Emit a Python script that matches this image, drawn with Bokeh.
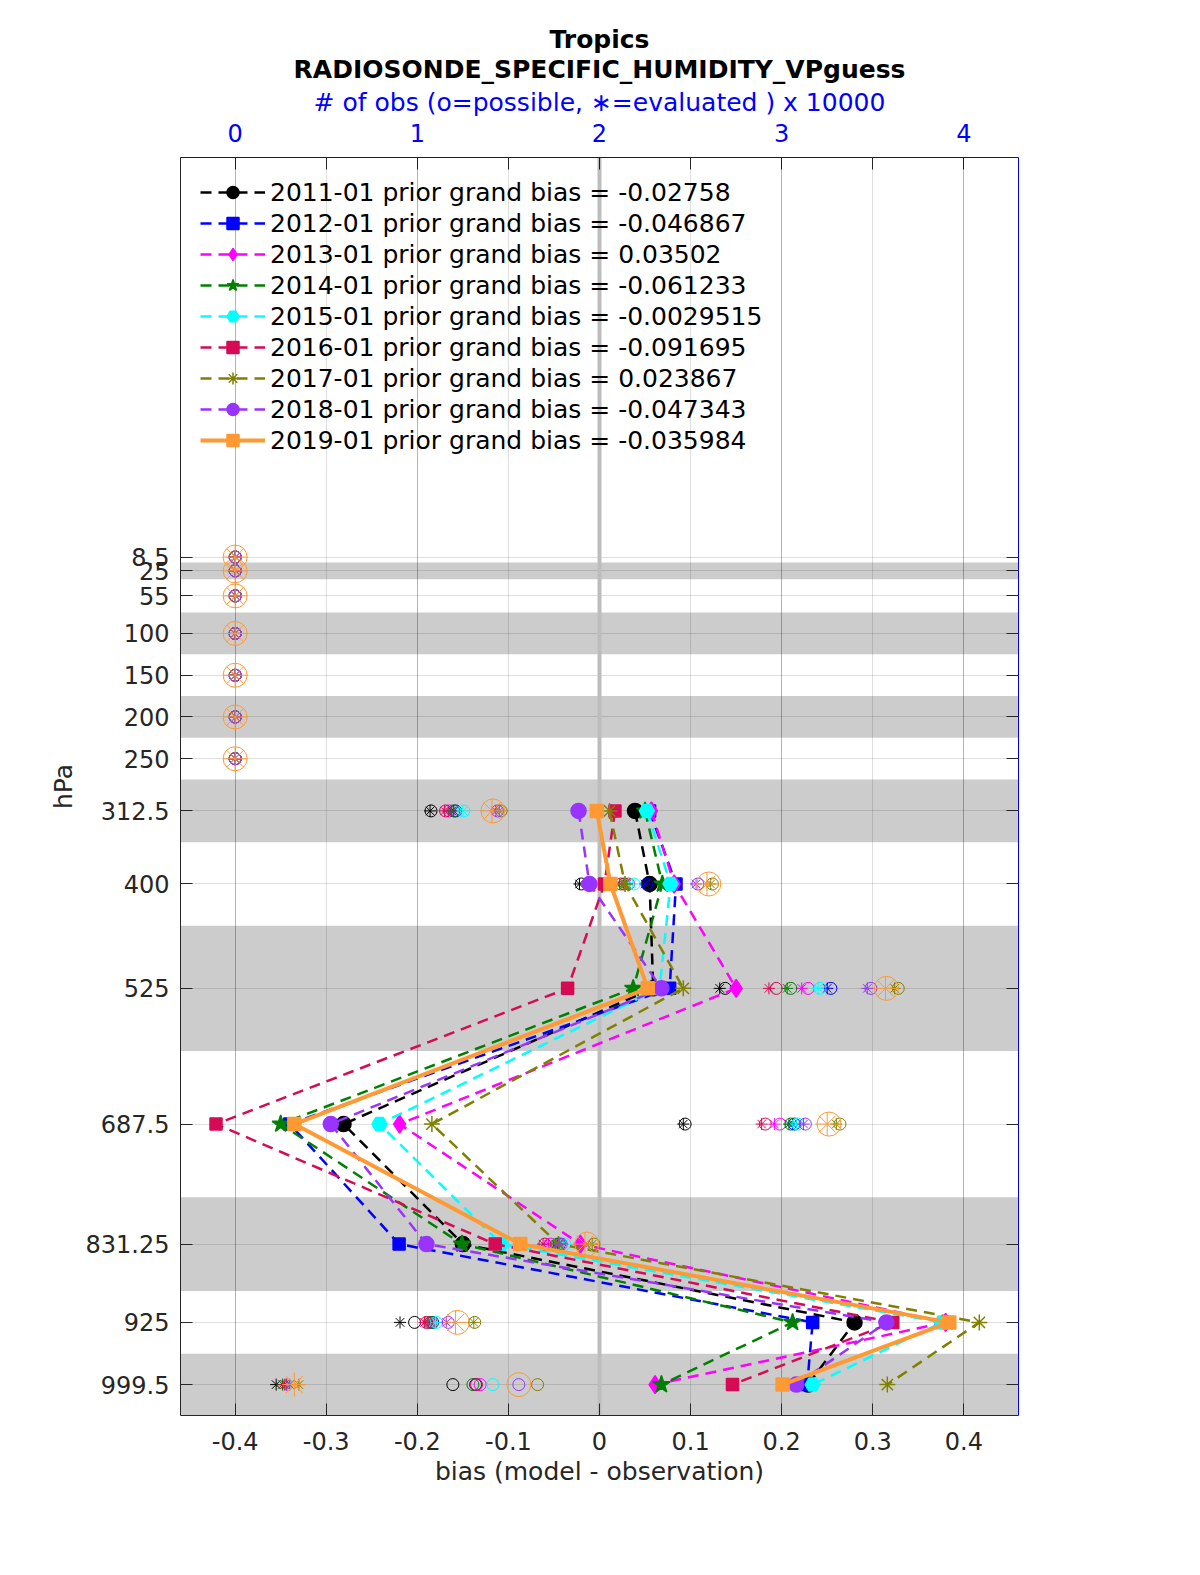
import math
from bokeh.plotting import figure
from bokeh.models import (Range1d, LinearAxis, FixedTicker, Title, Legend, LegendItem,
                          Span, Grid, BoxAnnotation, ColumnDataSource, CustomJSTickFormatter)
from bokeh.embed import file_html
from bokeh.resources import INLINE

# ---------------- data ----------------
levels = [8.5, 25, 55, 100, 150, 200, 250, 312.5, 400, 525, 687.5, 831.25, 925, 999.5]
level_labels = ["8.5", "25", "55", "100", "150", "200", "250", "312.5", "400", "525",
                "687.5", "831.25", "925", "999.5"]
shaded_top = [15, 75, 175, 275, 450, 775, 962.5]
shaded_bottom = [35, 125, 225, 350, 600, 887.5, 1036.5]
bias_ticks = [-0.4, -0.3, -0.2, -0.1, 0, 0.1, 0.2, 0.3, 0.4]
bias_tick_labels = ["-0.4", "-0.3", "-0.2", "-0.1", "0", "0.1", "0.2", "0.3", "0.4"]
obs_ticks = [0, 1, 2, 3, 4]
obs_tick_labels = ["0", "1", "2", "3", "4"]

periods = ["2011-01", "2012-01", "2013-01", "2014-01", "2015-01", "2016-01",
           "2017-01", "2018-01", "2019-01"]
grand_bias = ["-0.02758", "-0.046867", "0.03502", "-0.061233", "-0.0029515",
              "-0.091695", "0.023867", "-0.047343", "-0.035984"]

NA = float("nan")
upper_nan = [NA] * 7
upper_zero = [0.0] * 7

# bias at 312.5, 400, 525, 687.5, 831.25, 925, 999.5 hPa (upper levels empty)
bias_2011 = upper_nan + [0.039, 0.055, 0.059, -0.281, -0.150, 0.280, 0.229]
bias_2012 = upper_nan + [0.055, 0.084, 0.077, -0.340, -0.220, 0.234, 0.228]
bias_2013 = upper_nan + [0.057, 0.082, 0.150, -0.2195, -0.021, 0.380, 0.061]
bias_2014 = upper_nan + [0.050, 0.069, 0.037, -0.350, -0.151, 0.212, 0.068]
bias_2015 = upper_nan + [0.052, 0.078, 0.066, -0.2415, -0.108, 0.376, 0.234]
bias_2016 = upper_nan + [0.017, 0.0055, -0.035, -0.421, -0.1145, 0.322, 0.146]
bias_2017 = upper_nan + [0.011, 0.028, 0.092, -0.184, -0.045, 0.417, 0.316]
bias_2018 = upper_nan + [-0.023, -0.011, 0.068, -0.295, -0.190, 0.315, 0.216]
bias_2019 = upper_nan + [-0.003, 0.012, 0.053, -0.335, -0.087, 0.384, 0.201]

# number of obs possible (x 10000)
poss_2011 = upper_zero + [1.075, 1.90, 2.69, 2.47, 1.455, 0.985, 1.195]
poss_2012 = upper_zero + [1.21, 2.26, 3.27, 3.07, 1.78, 1.085, 1.32]
poss_2013 = upper_zero + [1.175, 2.16, 3.145, 2.99, 1.73, 1.065, 1.345]
poss_2014 = upper_zero + [1.20, 2.136, 3.05, 3.05, 1.77, 1.075, 1.305]
poss_2015 = upper_zero + [1.255, 2.19, 3.21, 3.09, 1.81, 1.105, 1.415]
poss_2016 = upper_zero + [1.155, 2.118, 2.97, 2.91, 1.70, 1.05, 1.325]
poss_2017 = upper_zero + [1.46, 2.62, 3.64, 3.32, 1.97, 1.315, 1.66]
poss_2018 = upper_zero + [1.44, 2.54, 3.49, 3.13, 1.79, 1.17, 1.557]
poss_2019 = upper_zero + [1.415, 2.60, 3.575, 3.26, 1.93, 1.22, 1.557]

# number of obs evaluated (x 10000)
eval_2011 = upper_zero + [1.07, 1.89, 2.66, 2.46, 1.45, 0.905, 0.225]
eval_2012 = upper_zero + [1.20, 2.25, 3.25, 3.06, 1.77, 1.08, 0.28]
eval_2013 = upper_zero + [1.17, 2.15, 3.11, 2.96, 1.72, 1.06, 0.285]
eval_2014 = upper_zero + [1.19, 2.13, 3.03, 3.04, 1.76, 1.07, 0.26]
eval_2015 = upper_zero + [1.25, 2.18, 3.20, 3.08, 1.80, 1.10, 0.29]
eval_2016 = upper_zero + [1.15, 2.11, 2.93, 2.89, 1.69, 1.04, 0.27]
eval_2017 = upper_zero + [1.45, 2.61, 3.62, 3.30, 1.96, 1.31, 0.35]
eval_2018 = upper_zero + [1.43, 2.53, 3.47, 3.12, 1.78, 1.16, 0.30]
eval_2019 = upper_zero + [1.41, 2.59, 3.57, 3.25, 1.92, 1.21, 0.325]

bias_all = [bias_2011, bias_2012, bias_2013, bias_2014, bias_2015, bias_2016,
            bias_2017, bias_2018, bias_2019]
poss_all = [poss_2011, poss_2012, poss_2013, poss_2014, poss_2015, poss_2016,
            poss_2017, poss_2018, poss_2019]
eval_all = [eval_2011, eval_2012, eval_2013, eval_2014, eval_2015, eval_2016,
            eval_2017, eval_2018, eval_2019]

# ---------------- styles ----------------
colors = ["#000000", "#0000ff", "#ff00ff", "#008000", "#00ffff", "#d60a55",
          "#808000", "#9933ff", "#ff9933"]
markers = ["circle", "square", "diamond", "star", "hex", "square", "asterisk",
           "circle", "square"]
msizes = [15, 12, 18, 18, 15, 12, 16, 15, 13]
dashes = ["11 7"] * 8 + ["solid"]
lwidths = [2.5] * 8 + [4]
obs_sizes = [12] * 8 + [24]

FONT = "DejaVu Sans"

# ---------------- figure ----------------
W, H = 1200, 1575
FL, FT, FW, FH = 180, 157, 838, 1258
p = figure(width=W, height=H, output_backend="svg", toolbar_location=None,
           title=None,
           x_range=Range1d(-0.46, 0.46), y_range=Range1d(1036.5, -470),
           min_border_left=FL, min_border_top=FT,
           min_border_right=W - FL - FW, min_border_bottom=H - FT - FH)
p.outline_line_color = None
p.background_fill_color = "white"
p.border_fill_color = "white"
p.extra_x_ranges = {"obs": Range1d(-0.3, 4.3)}

# bottom axis
xa = p.xaxis[0]
xa.ticker = FixedTicker(ticks=bias_ticks)
xa.major_label_overrides = {t: l for t, l in zip(bias_ticks, bias_tick_labels)}
xa.axis_label = "bias (model - observation)"

# left axis
ya = p.yaxis[0]
ya.ticker = FixedTicker(ticks=levels)
ya.major_label_overrides = {t: l for t, l in zip(levels, level_labels)}
ya.axis_label = "hPa"

# top axis
ta = LinearAxis(x_range_name="obs", ticker=FixedTicker(ticks=obs_ticks,
                minor_ticks=[t + 0.5 for t in obs_ticks[:-1]]))
ta.major_label_overrides = {t: l for t, l in zip(obs_ticks, obs_tick_labels)}
ta.axis_label = "# of obs (o=possible, \u2217=evaluated ) x 10000"

# right axis
ra = LinearAxis(ticker=FixedTicker(ticks=levels),
                formatter=CustomJSTickFormatter(code="return ''"))

for ax in [xa, ya, ta, ra]:
    ax.major_tick_in = 12
    ax.major_tick_out = 0
    ax.minor_tick_in = 0
    ax.minor_tick_out = 0
    ax.major_label_text_font = FONT
    ax.major_label_text_font_size = "24px"
    ax.axis_label_text_font = FONT
    ax.axis_label_text_font_size = "25px"
    ax.axis_label_text_font_style = "normal"
    ax.major_label_standoff = 11
    ax.axis_line_width = 1
    ax.major_tick_line_width = 1

for ax in [xa, ya]:
    ax.axis_line_color = "#262626"
    ax.major_tick_line_color = "#262626"
    ax.major_label_text_color = "#262626"
    ax.axis_label_text_color = "#262626"
xa.major_label_standoff = 16
xa.axis_label_standoff = 4
ya.axis_label_standoff = 5

ta.axis_line_color = "blue"
ta.major_tick_line_color = "blue"
ta.major_label_text_color = "blue"
ta.axis_label_text_color = "blue"
ta.minor_tick_in = 12
ta.minor_tick_line_color = "#262626"
ta.axis_label_standoff = 4
ta.major_label_standoff = 16

ra.axis_line_color = "blue"
ra.major_tick_line_color = "#262626"
ra.major_label_standoff = 0

p.add_layout(ta, "above")
p.add_layout(ra, "right")
p.add_layout(Title(text="RADIOSONDE_SPECIFIC_HUMIDITY_VPguess", align="center",
                   text_font=FONT, text_font_size="25px", text_font_style="bold",
                   text_color="black", standoff=2), "above")
p.add_layout(Title(text="Tropics", align="center", text_font=FONT,
                   text_font_size="25px", text_font_style="bold",
                   text_color="black", standoff=-5), "above")

# grids
p.xgrid.ticker = FixedTicker(ticks=bias_ticks)
p.ygrid.ticker = FixedTicker(ticks=levels)
for g in [p.xgrid[0], p.ygrid[0]]:
    g.grid_line_color = "#262626"
    g.grid_line_alpha = 0.15
    g.grid_line_width = 1
bgrid = Grid(dimension=0, ticker=FixedTicker(ticks=[-0.4, -0.2, 0, 0.2, 0.4]),
             grid_line_color="#0000ff", grid_line_alpha=0.22, grid_line_width=1)
p.add_layout(bgrid)

# shaded layers
for t, b in zip(shaded_top, shaded_bottom):
    p.add_layout(BoxAnnotation(top=t, bottom=b, fill_color="#cccccc", fill_alpha=1.0,
                               line_color=None, level="image"))

# zero line
p.add_layout(Span(location=0, dimension="height", line_color="#bdbdbd",
                  line_width=4, level="underlay"))

# series
items = []
for i in range(len(periods)):
    src = ColumnDataSource(dict(level=levels, bias=bias_all[i],
                                poss=poss_all[i], ev=eval_all[i]))
    ln = p.line("bias", "level", source=src, line_color=colors[i],
                line_width=lwidths[i], line_dash=dashes[i])
    mk = p.scatter("bias", "level", source=src, marker=markers[i], size=msizes[i],
                   fill_color=colors[i], line_color=colors[i], line_width=1.5)
    p.scatter("poss", "level", source=src, x_range_name="obs", marker="circle",
              size=obs_sizes[i], fill_color=None, line_color=colors[i], line_width=1)
    p.scatter("ev", "level", source=src, x_range_name="obs", marker="asterisk",
              size=obs_sizes[i], line_color=colors[i], line_width=1)
    items.append(LegendItem(label=f"{periods[i]} prior grand bias = {grand_bias[i]}",
                            renderers=[ln, mk]))

legend = Legend(items=items, location="top_left", label_text_font=FONT,
                label_text_font_size="25px", label_text_color="black",
                glyph_width=65, glyph_height=30, label_height=30, spacing=1,
                padding=10, margin=10, label_standoff=5,
                background_fill_alpha=0, border_line_alpha=0)
p.add_layout(legend)

open("out.html", "w").write(file_html(p, INLINE))
